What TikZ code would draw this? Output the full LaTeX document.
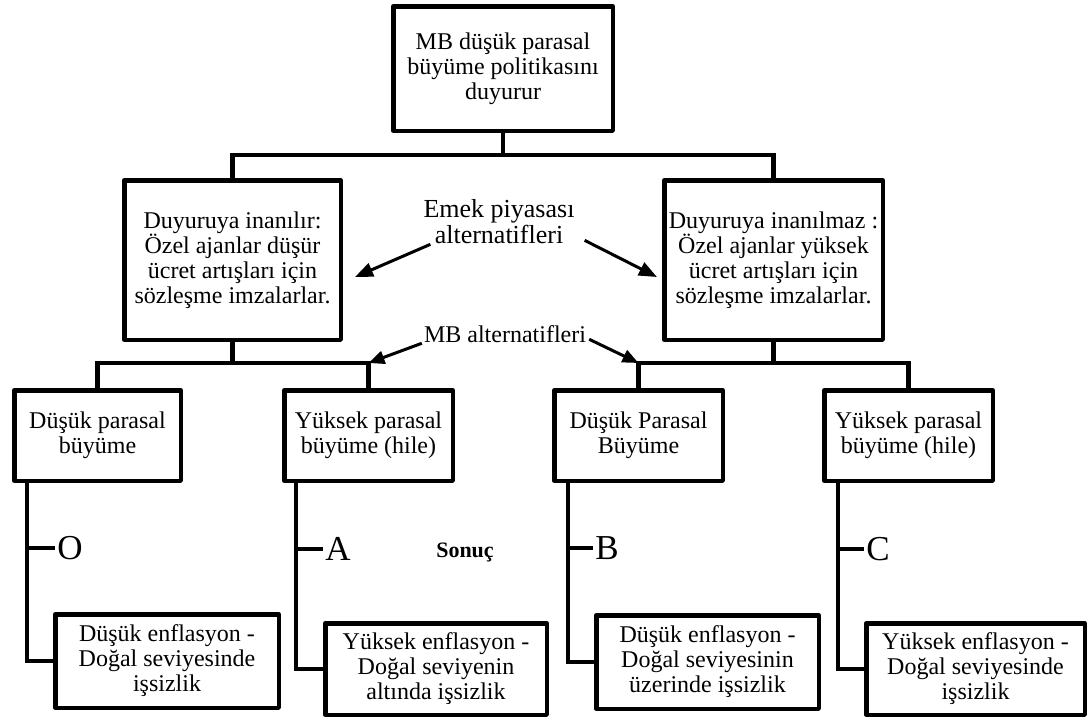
\documentclass[tikz,border=0pt]{standalone}
\usepackage{fontspec}
\setmainfont{Liberation Serif}
\usetikzlibrary{arrows.meta}
\begin{document}
\begin{tikzpicture}[x=1pt,y=-1pt,
  box/.style={draw,line width=4.5pt,line join=round,align=center,inner sep=0pt,
    font=\fontsize{24}{25}\selectfont},
  conn/.style={draw,line width=4.5pt},
  arrbig/.style={draw,line width=3pt,-{Triangle[length=18pt,width=14pt]}},
  arrsmall/.style={draw,line width=3pt,-{Triangle[length=16pt,width=13pt]}},
  lbl/.style={align=center,inner sep=0pt,font=\fontsize{24}{25}\selectfont},
  letter/.style={inner sep=2.5pt,font=\fontsize{35}{40}\selectfont}
]
\useasboundingbox (0,0) rectangle (1089,720);

% level 0
\node[box,minimum width=219.5pt,minimum height=124.5pt] (top) at (503,68.5)
  {MB düşük parasal\\büyüme politikasını\\duyurur};

% level 1
\node[box,minimum width=216.5pt,minimum height=159.5pt] (midL) at (232.5,260)
  {Duyuruya inanılır:\\Özel ajanlar düşür\\ücret artışları için\\sözleşme imzalarlar.};
\node[box,minimum width=218.5pt,minimum height=159.5pt] (midR) at (773.5,260)
  {Duyuruya inanılmaz :\\Özel ajanlar yüksek\\ücret artışları için\\sözleşme imzalarlar.};

% level 2
\node[box,minimum width=166.5pt,minimum height=90.5pt] (b1) at (97.5,435.5)
  {Düşük parasal\\büyüme};
\node[box,minimum width=168.5pt,minimum height=90.5pt] (b2) at (368.5,435.5)
  {Yüksek parasal\\büyüme (hile)};
\node[box,minimum width=168.5pt,minimum height=90.5pt] (b3) at (638.5,435.5)
  {Düşük Parasal\\Büyüme};
\node[box,minimum width=168.5pt,minimum height=90.5pt] (b4) at (908.5,435.5)
  {Yüksek parasal\\büyüme (hile)};

% outcomes
\node[box,minimum width=223.5pt,minimum height=93.5pt] (oO) at (167,661)
  {Düşük enflasyon -\\Doğal seviyesinde\\işsizlik};
\node[box,minimum width=221.5pt,minimum height=91.5pt] (oA) at (436,669)
  {Yüksek enflasyon -\\Doğal seviyenin\\altında işsizlik};
\node[box,minimum width=222.5pt,minimum height=93.5pt] (oB) at (707.5,662)
  {Düşük enflasyon -\\Doğal seviyesinin\\üzerinde işsizlik};
\node[box,minimum width=218.5pt,minimum height=91.5pt] (oC) at (975.5,669)
  {Yüksek enflasyon -\\Doğal seviyesinde\\işsizlik};

% labels
\node[lbl,font=\fontsize{26}{26}\selectfont] (emek) at (499,222)
  {Emek piyasası\\alternatifleri};
\node[lbl] (mbalt) at (505,334.5) {MB alternatifleri};
\node[font=\fontsize{22}{24}\selectfont\bfseries,anchor=base] (sonuc) at (465,557) {Sonuç};

\node[letter] (lO) at (70,548) {O};
\node[letter] (lA) at (338,549) {A};
\node[letter] (lB) at (607,548) {B};
\node[letter] (lC) at (878,549) {C};

% junctions
\coordinate (j0) at (503,155);
\coordinate (j1) at (232.5,363);
\coordinate (j2) at (773.5,363);

% tree connectors
\path[conn] (top.south) -- (j0);
\path[conn] (midL.north) |- (j0) -| (midR.north);
\path[conn] (midL.south) -- (j1);
\path[conn] (b1.north) |- (j1) -| (b2.north);
\path[conn] (midR.south) -- (j2);
\path[conn] (b3.north) |- (j2) -| (b4.north);

% outcome hooks
\coordinate (v1) at ([xshift=14.75pt]b1.south west);
\coordinate (v2) at ([xshift=13.75pt]b2.south west);
\coordinate (v3) at ([xshift=15.75pt]b3.south west);
\coordinate (v4) at ([xshift=15.75pt]b4.south west);
\path[conn] (v1) |- (oO.west);
\path[conn] (v2) |- (oA.west);
\path[conn] (v3) |- (oB.west);
\path[conn] (v4) |- (oC.west);
\path[conn] (v1 |- lO) -- (lO.west);
\path[conn] (v2 |- lA) -- (lA.west);
\path[conn] (v3 |- lB) -- (lB.west);
\path[conn] (v4 |- lC) -- (lC.west);

% arrows
\coordinate (eL) at (355,277);
\coordinate (eR) at (657,277);
\path[arrbig] ([xshift=7pt]emek.south west) -- (eL);
\path[arrbig] ([shift={(10,-4)}]emek.south east) -- (eR);
\path[arrsmall] ([xshift=-2pt]mbalt.south west) -- (b2.north |- j1);
\path[arrsmall] ([shift={(3,-4)}]mbalt.south east) -- (b3.north |- j2);
\end{tikzpicture}
\end{document}
